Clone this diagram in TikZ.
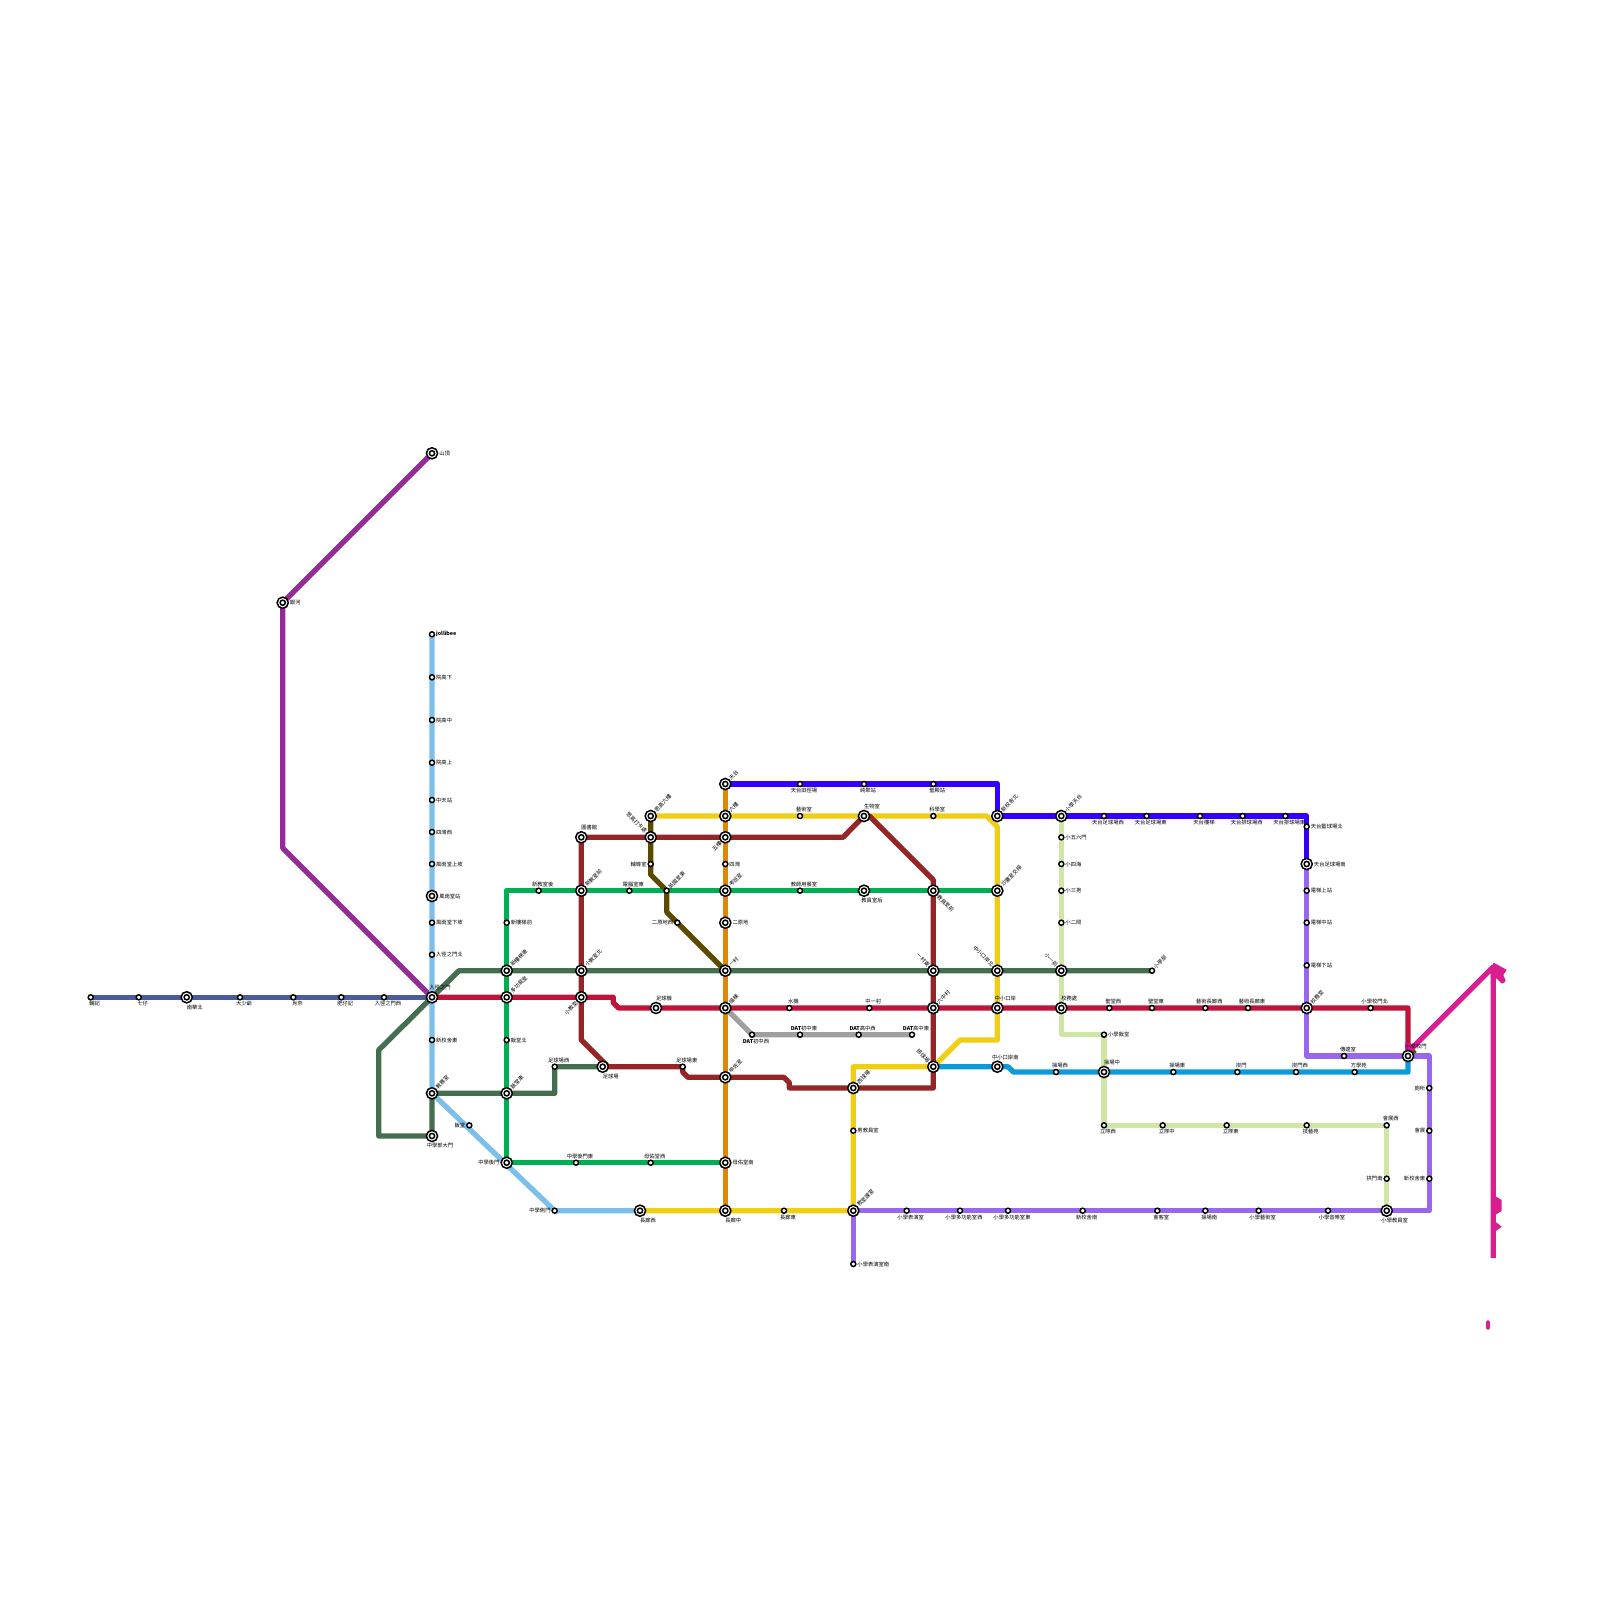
\documentclass[tikz,border=0pt]{standalone}
\usepackage{fontspec}
\setmainfont{Noto Sans CJK TC}
\usepackage{xcolor}
\usepackage{tikz}
\usetikzlibrary{backgrounds}
\definecolor{linenavy}{HTML}{4A5A9A}
\definecolor{lineblue}{HTML}{7CBFEA}
\definecolor{linepurple}{HTML}{932C9A}
\definecolor{linegreen}{HTML}{00B050}
\definecolor{linepine}{HTML}{456D50}
\definecolor{linemaroon}{HTML}{962528}
\definecolor{linered}{HTML}{C0133A}
\definecolor{lineorange}{HTML}{E08800}
\definecolor{lineviolet}{HTML}{3300FF}
\definecolor{lineyellow}{HTML}{F0CE15}
\definecolor{lineolive}{HTML}{5C4A00}
\definecolor{linegrey}{HTML}{A0A0A0}
\definecolor{linecyan}{HTML}{0A9BD8}
\definecolor{linelime}{HTML}{D0E6A5}
\definecolor{linelilac}{HTML}{9966EE}
\definecolor{linepink}{HTML}{D81E90}
\tikzset{
  stn/.style={
    circle, draw=black, line width=1.5pt, fill=white,
    minimum size=5pt, inner sep=0pt
  },
  bigstn/.style={
    circle, draw=black, line width=1.5pt, fill=white,
    minimum size=11.2pt, inner sep=0pt, label distance=1.2pt,
    path picture={\draw[line width=1.5pt] (path picture bounding box.center) circle (2.6pt);}
  },
  lab/.style={
    font=\fontsize{5.3}{6}\selectfont, inner sep=0pt, text=black
  },
  tube/.style={
    draw=#1, line width=5.3pt, line join=round
  },
  rn/.style={label={[lab]right:#1}},
  ln/.style={label={[lab]left:#1}},
  tn/.style={label={[lab,xshift=4pt]above:#1}},
  bn/.style={label={[lab,xshift=4pt]below:#1}},
  tb/.style={label={[lab,xshift=8pt]above:#1}},
  bb/.style={label={[lab,xshift=8pt]below:#1}},
  ne/.style={label={[lab,rotate=45,anchor=west]45:#1}},
  nw/.style={label={[lab,rotate=-45,anchor=east]135:#1}},
  se/.style={label={[lab,rotate=-45,anchor=west]-45:#1}},
  sw/.style={label={[lab,rotate=45,anchor=east]225:#1}},
}
\begin{document}
\begin{tikzpicture}[x=1pt,y=-1pt,label distance=0.7pt]
  \useasboundingbox (0,0) rectangle (1600,1600);

  % West branch
  \node[stn,bn=輔記] (fuji) at (90.7,997.3) {};
  \node[stn,bn=七仔] (qizai) at (138.7,997.3) {};
  \node[bigstn,bb=南華北] (nanhua) at (186.7,997.3) {};
  \node[stn,bn=大少爺] (shaoye) at (240,997.3) {};
  \node[stn,bn=肖奈] (xiaonai) at (293.3,997.3) {};
  \node[stn,bn=肥仔記] (feizai) at (341.3,997.3) {};
  \node[stn,bn=入徑之門西] (rujingw) at (384,997.3) {};
  \node[bigstn,tb=入徑之門] (rujing) at (432,997.3) {};
  \node[bigstn,rn=山頂] (shanding) at (432,453.3) {};
  \node[bigstn,rn=銀河] (yinhe) at (282.7,602.7) {};

  % Light blue column
  \node[stn,rn=\textbf{jollibee}] (jollibee) at (432,634.3) {};
  \node[stn,rn=院高下] (yuanxia) at (432,677.3) {};
  \node[stn,rn=院高中] (yuanzhong) at (432,720) {};
  \node[stn,rn=院高上] (yuanshang) at (432,762.7) {};
  \node[stn,rn=中天站] (zhongtian) at (432,800) {};
  \node[stn,rn=四灣西] (siwanw) at (432,832) {};
  \node[stn,rn=風雨堂上坡] (fengs) at (432,864) {};
  \node[bigstn,rn=風雨堂站] (feng) at (432,896) {};
  \node[stn,rn=風雨堂下坡] (fengx) at (432,922.7) {};
  \node[stn,rn=入徑之門北] (rujingn) at (432,954.7) {};
  \node[stn,rn=新校舍東] (xinxiao) at (432,1040) {};
  \node[bigstn,ne=教務室] (jiaowu) at (432,1093.3) {};
  \node[bigstn,bb=中學部大門] (zhongda) at (432,1136) {};
  \node[stn,ln=飯堂] (fantang) at (469.3,1125.3) {};
  \node[stn,ln=中學側門] (zhongce) at (554.7,1210.7) {};
  \node[bigstn,bb=長廊西] (changw) at (640,1210.7) {};

  % Green loop
  \node[bigstn,ln=中學後門] (zhonghou) at (506.7,1162.7) {};
  \node[bigstn,ne=飯堂東] (fane) at (506.7,1093.3) {};
  \node[stn,rn=飯堂北] (fann) at (506.7,1040) {};
  \node[bigstn,ne=多功能室] (duogong) at (506.7,997.3) {};
  \node[bigstn,ne=新樓梯後] (louhou) at (506.7,970.7) {};
  \node[stn,rn=新樓梯前] (louqian) at (506.7,922.7) {};
  \node[stn,tn=新教室後] (jiaohou) at (538.7,890.7) {};
  \node[bigstn,ne=新教室前] (jiaoqian) at (581.3,890.7) {};
  \node[stn,tn=電腦室東] (diannao) at (629.3,890.7) {};
  \node[stn,ne=英國室東] (yingguo) at (666.7,890.7) {};
  \node[bigstn,ne=考班室] (kaoban) at (725.3,890.7) {};
  \node[stn,tn=教師用餐室] (canshi) at (800,890.7) {};
  \node[bigstn,bb=教員室后] (yuanhou) at (864,890.7) {};
  \node[bigstn,se=教員室前] (yuanqian) at (933.3,890.7) {};
  \node[bigstn,ne=沙灘室交接] (shatan) at (997.3,890.7) {};
  \node[stn,tn=中學後門東] (houdong) at (576,1162.7) {};
  \node[stn,tn=母佑堂西] (muyouw) at (650.7,1162.7) {};
  \node[bigstn,rn=母佑堂南] (muyous) at (725.3,1162.7) {};

  % Maroon line
  \node[bigstn,tb=圖書館] (tushu) at (581.3,837.3) {};
  \node[bigstn,nw=思高打卡處] (daka) at (650.7,837.3) {};
  \node[bigstn,sw=五樓] (wulou) at (725.3,837.3) {};
  \node[bigstn,tb=生物室] (shengwu) at (864,816) {};
  \node[bigstn,nw=一村東] (yicune) at (933.3,970.7) {};
  \node[bigstn,ne=六中村] (liuzhong) at (933.3,1008) {};
  \node[bigstn,nw=排球場] (paiqiu) at (933.3,1066.7) {};
  \node[bigstn,ne=西球場] (xiqiu) at (853.3,1088) {};
  \node[bigstn,ne=甲佐室] (jiazuo) at (725.3,1077.3) {};
  \node[stn,tn=足球場東] (zue) at (682.7,1066.7) {};
  \node[bigstn,bb=足球場] (zuqiu) at (602.7,1066.7) {};
  \node[stn,tn=足球場西] (zuw) at (554.7,1066.7) {};
  \node[bigstn,sw=小教室] (xiaojiao) at (581.3,997.3) {};
  \node[bigstn,ne=小教室北] (xiaojn) at (581.3,970.7) {};

  % Red line
  \node[bigstn,tb=足球機] (zuji) at (656,1008) {};
  \node[bigstn,ne=操棟] (caodong) at (725.3,1008) {};
  \node[stn,tn=水機] (shuiji) at (789.3,1008) {};
  \node[stn,tn=中一村] (zhongyi) at (869.3,1008) {};
  \node[bigstn,tb=中小口岸] (kouan) at (997.3,1008) {};
  \node[bigstn,tb=校務處] (xiaowu) at (1061.3,1008) {};
  \node[stn,tn=聖堂西] (shengw) at (1109.3,1008) {};
  \node[stn,tn=聖堂東] (shenge) at (1152,1008) {};
  \node[stn,tn=藝術長廊西] (yilangw) at (1205.3,1008) {};
  \node[stn,tn=藝術長廊東] (yilange) at (1248,1008) {};
  \node[bigstn,ne=校務室] (wushi) at (1306.7,1008) {};
  \node[stn,tn=小學校門北] (menbei) at (1370.7,1008) {};
  \node[bigstn,tb=小學校門] (xiaomen) at (1408,1056) {};

  % Orange column and olive branch
  \node[bigstn,ne=天台] (tiantai) at (725.3,784) {};
  \node[bigstn,ne=六樓] (liulou) at (725.3,816) {};
  \node[stn,rn=四灣] (siwan) at (725.3,864) {};
  \node[bigstn,rn=二原地] (eryuan) at (725.3,922.7) {};
  \node[bigstn,ne=一村] (yicun) at (725.3,970.7) {};
  \node[bigstn,bb=長廊中] (changz) at (725.3,1210.7) {};
  \node[bigstn,ne=思高六樓] (sigao) at (650.7,816) {};
  \node[stn,ln=輔導室] (fudao) at (650.7,864) {};
  \node[stn,ln=二原地西] (eryuanw) at (677.3,922.7) {};

  % Violet line
  \node[stn,bn=天台田徑場] (tianjing) at (800,784) {};
  \node[stn,bn=純聚站] (chunju) at (864,784) {};
  \node[stn,bn=聖殿站] (shengdian) at (933.3,784) {};
  \node[bigstn,ne=新校舍北] (xinbei) at (997.3,816) {};
  \node[bigstn,ne=小學天台] (xiaotian) at (1061.3,816) {};
  \node[stn,bn=天台足球場西] (tzuw) at (1104,816) {};
  \node[stn,bn=天台足球場東] (tzue) at (1146.7,816) {};
  \node[stn,bn=天台樓梯] (tlou) at (1200,816) {};
  \node[stn,bn=天台排球場西] (tpaiw) at (1242.7,816) {};
  \node[stn,bn=天台排球場東] (tpaie) at (1285.3,816) {};
  \node[stn,rn=天台籃球場北] (tlan) at (1306.7,826.7) {};
  \node[bigstn,rn=天台足球場南] (tzus) at (1306.7,864) {};

  % Yellow line
  \node[stn,tn=藝術室] (yishu) at (800,816) {};
  \node[stn,tn=科學室] (kexue) at (933.3,816) {};
  \node[bigstn,nw=中小口岸北] (koubei) at (997.3,970.7) {};
  \node[stn,rn=男教員室] (nanjiao) at (853.3,1130.7) {};
  \node[bigstn,ne=教室課室] (keshi) at (853.3,1210.7) {};
  \node[stn,bn=長廊東] (change) at (784,1210.7) {};

  % Grey line
  \node[stn,bn=\textbf{DAT}初中西] (datw) at (752,1034.7) {};
  \node[stn,tn=\textbf{DAT}初中東] (date) at (800,1034.7) {};
  \node[stn,tn=\textbf{DAT}高中西] (dathw) at (858.7,1034.7) {};
  \node[stn,tn=\textbf{DAT}高中東] (dathe) at (912,1034.7) {};

  % Cyan line
  \node[bigstn,tb=中小口岸南] (kounan) at (997.3,1066.7) {};
  \node[stn,tn=操場西] (caow) at (1056,1072) {};
  \node[bigstn,tb=操場中] (caoz) at (1104,1072) {};
  \node[stn,tn=操場東] (caoe) at (1173.3,1072) {};
  \node[stn,tn=炭門] (tanmen) at (1237.3,1072) {};
  \node[stn,tn=炭門西] (tanw) at (1296,1072) {};
  \node[stn,tn=方學苑] (fangxue) at (1354.7,1072) {};

  % Lime line
  \node[stn,rn=小五六門] (xiaowl) at (1061.3,837.3) {};
  \node[stn,rn=小四海] (xiaosi) at (1061.3,864) {};
  \node[stn,rn=小三孢] (xiaosan) at (1061.3,890.7) {};
  \node[stn,rn=小二岡] (xiaoer) at (1061.3,922.7) {};
  \node[bigstn,nw=小一前] (xiaoyi) at (1061.3,970.7) {};
  \node[stn,ne=小學部] (xiaobu) at (1152,970.7) {};
  \node[stn,rn=小學飯堂] (xiaofan) at (1104,1034.7) {};
  \node[stn,bn=立隊西] (liw) at (1104,1125.3) {};
  \node[stn,bn=立隊中] (liz) at (1162.7,1125.3) {};
  \node[stn,bn=立隊東] (lie) at (1226.7,1125.3) {};
  \node[stn,bn=技藝苑] (jiyi) at (1306.7,1125.3) {};
  \node[stn,tn=會展西] (huiw) at (1386.7,1125.3) {};
  \node[stn,ln=拱門南] (gongmen) at (1386.7,1178.7) {};
  \node[bigstn,bb=小學教員室] (xiaoyuan) at (1386.7,1210.7) {};

  % Lilac line
  \node[stn,rn=小學表演室南] (biaos) at (853.3,1264) {};
  \node[stn,bn=小學表演室] (biao) at (906.7,1210.7) {};
  \node[stn,bn=小學多功能室西] (xduow) at (960,1210.7) {};
  \node[stn,bn=小學多功能室東] (xduoe) at (1008,1210.7) {};
  \node[stn,bn=新校舍南] (xinnan) at (1082.7,1210.7) {};
  \node[stn,bn=會客室] (huike) at (1157.3,1210.7) {};
  \node[stn,bn=操場南] (caon) at (1205.3,1210.7) {};
  \node[stn,bn=小學藝術室] (xyishu) at (1258.7,1210.7) {};
  \node[stn,bn=小學音樂室] (xyinyue) at (1328,1210.7) {};
  \node[stn,ln=新校舍東] (xindong) at (1429.3,1178.7) {};
  \node[stn,ln=會展] (huizhan) at (1429.3,1130.7) {};
  \node[stn,ln=廁所] (cesuo) at (1429.3,1088) {};
  \node[stn,tn=傳達室] (chuanda) at (1344,1056) {};
  \node[stn,rn=電梯上站] (tis) at (1306.7,890.7) {};
  \node[stn,rn=電梯中站] (tiz) at (1306.7,922.7) {};
  \node[stn,rn=電梯下站] (tix) at (1306.7,965.3) {};

  % Bends
  \coordinate (pu1) at (282.7,848);
  \coordinate (pn1) at (459,970.7);
  \coordinate (pn2) at (378.7,1050);
  \coordinate (pn3) at (378.7,1136);
  \coordinate (pn4) at (554.7,1093.3);
  \coordinate (gr1) at (506.7,890.7);
  \coordinate (ma1) at (843,837.3);
  \coordinate (ma2) at (869.3,816);
  \coordinate (ma3) at (933.3,880);
  \coordinate (ma4) at (933.3,1088);
  \coordinate (ma5) at (789.3,1088);
  \coordinate (ma6) at (789.3,1082.7);
  \coordinate (ma7) at (784,1077.3);
  \coordinate (ma8) at (688,1077.3);
  \coordinate (ma9) at (682.7,1072);
  \coordinate (ma10) at (581.3,1040);
  \coordinate (ma11) at (608,1066.7);
  \coordinate (re1) at (613.3,997.3);
  \coordinate (re2) at (613.3,1002.7);
  \coordinate (re3) at (618.7,1008);
  \coordinate (re4) at (1408,1008);
  \coordinate (ol1) at (650.7,874.7);
  \coordinate (ol2) at (666.7,912);
  \coordinate (ol3) at (1415,1050);
  \coordinate (vi1) at (997.3,784);
  \coordinate (vi2) at (1306.7,816);
  \coordinate (ye1) at (986.7,816);
  \coordinate (ye2) at (997.3,826.7);
  \coordinate (ye3) at (997.3,1040);
  \coordinate (ye4) at (960,1040);
  \coordinate (ye5) at (853.3,1066.7);
  \coordinate (gy1) at (752,1034.7);
  \coordinate (cy1) at (1008,1066.7);
  \coordinate (cy2) at (1013.3,1072);
  \coordinate (cy3) at (1408,1072);
  \coordinate (li1) at (1061.3,1034.7);
  \coordinate (li2) at (1386.7,1125.3);
  \coordinate (la1) at (1429.3,1210.7);
  \coordinate (la2) at (1429.3,1056);
  \coordinate (la3) at (1306.7,1056);
  \coordinate (pk1) at (1408,1043);
  \coordinate (pk2) at (1408,1052);
  \coordinate (pk3) at (1493.3,966.7);
  \coordinate (pk4) at (1493.3,1258);
  \coordinate (dash1) at (1488,1322.5);
  \coordinate (dash2) at (1488,1327.5);

  \begin{scope}[on background layer]
    \draw[tube=linenavy] (fuji.center) -- (rujing.center);
    \draw[tube=linepurple] (shanding.center) -- (yinhe.center) -- (pu1) -- (rujing.center);
    \draw[tube=lineblue] (jollibee.center) -- (jiaowu.center) -- (zhongce.center) -- (changw.center);
    \draw[tube=linepine] (xiaobu.center) -- (pn1) -- (rujing.center) -- (pn2) -- (pn3) -- (zhongda.center) -- (jiaowu.center) -- (pn4) -- (zuw.center) -- (zuqiu.center);
    \draw[tube=lineorange] (tiantai.center) -- (changz.center);
    \draw[tube=linegreen] (muyous.center) -- (zhonghou.center) -- (gr1) -- (shatan.center);
    \draw[tube=linelime] (xiaotian.center) -- (li1) -- (xiaofan.center) -- (liw.center) -- (li2) -- (xiaoyuan.center);
    \draw[tube=linelilac] (biaos.center) -- (keshi.center) -- (la1) -- (la2) -- (la3) -- (tzus.center);
    \draw[tube=lineyellow] (sigao.center) -- (ye1) -- (ye2) -- (ye3) -- (ye4) -- (paiqiu.center) -- (ye5) -- (keshi.center) -- (changw.center);
    \draw[tube=lineviolet] (tiantai.center) -- (vi1) -- (xinbei.center) -- (vi2) -- (tzus.center);
    \draw[tube=linegrey] (caodong.center) -- (gy1) -- (dathe.center);
    \draw[tube=linecyan] (paiqiu.center) -- (cy1) -- (cy2) -- (cy3) -- (xiaomen.center);
    \draw[tube=linemaroon] (tushu.center) -- (ma1) -- (shengwu.center) -- (ma2) -- (ma3) -- (ma4) -- (ma5) -- (ma6) -- (ma7) -- (ma8) -- (ma9) -- (zue.center) -- (ma11) -- (ma10) -- (tushu.center);
    \draw[tube=linered] (rujing.center) -- (re1) -- (re2) -- (re3) -- (re4) -- (pk1);
    \draw[tube=lineolive] (sigao.center) -- (ol1) -- (yingguo.center) -- (ol2) -- (yicun.center);
    \draw[tube=lineolive] (xiaomen.center) -- (ol3);
    \draw[tube=linepink] (xiaomen.center) -- (pk1);
    \draw[tube=linepink] (pk2) -- (pk3) -- (pk4);
    \draw[tube=linepink, line width=4.5pt, line cap=round] (dash1) -- (dash2);
    \fill[linepink,rounded corners=1pt] (1493.3,962.5) -- (1507,970) -- (1503,975) -- (1506,981) -- (1502,984) -- (1496,978) -- (1490.5,978) -- cycle;
    \fill[linepink] (1493.3,1195) -- (1501.7,1200) -- (1501.7,1211) -- (1493.3,1216) -- cycle;
    \fill[linepink] (1493.3,1220) -- (1501.7,1226.7) -- (1493.3,1233) -- cycle;
  \end{scope}
\end{tikzpicture}
\end{document}
